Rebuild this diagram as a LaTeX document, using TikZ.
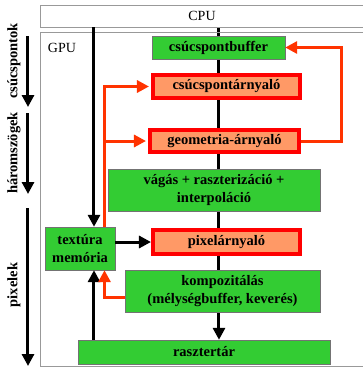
\documentclass[tikz,border=0pt]{standalone}
\usepackage{fontspec}
\setmainfont{Liberation Serif}
\usepackage{xcolor}
\usepackage{tikz}
\usetikzlibrary{arrows.meta,backgrounds}

\definecolor{stagegreen}{HTML}{33CC33}
\definecolor{shaderfill}{HTML}{FF9966}
\definecolor{fetchred}{HTML}{FF3300}

\begin{document}
\begin{tikzpicture}[x=1pt, y=-1pt,
        stage/.style={rectangle, draw=black!55, fill=stagegreen, align=center, inner sep=0pt, font=\fontsize{14.5}{18}\selectfont\bfseries},
        shader/.style={stage, draw=red, line width=4pt, fill=shaderfill},
        frame/.style={rectangle, draw=black!40, thick},
        axislabel/.style={rotate=90, font=\fontsize{14.5}{18}\selectfont\bfseries},
        dataflow/.style={draw, -{Triangle[length=12pt,width=12pt]}, line width=3pt},
        texfetch/.style={draw=fetchred, -{Triangle[length=12pt,width=12pt]}, line width=3pt}
    ]
        \useasboundingbox (0,0) rectangle (363,368);

        % Frames
        \node [frame, minimum width=324pt, minimum height=22pt, font=\fontsize{14}{16}\selectfont] (cpu) at (202,16) {CPU};
        \node [frame, minimum width=324pt, minimum height=334pt] (gpu) at (202,199) {};
        \node [font=\fontsize{14}{16}\selectfont] (gpulabel) at (62,48) {GPU};

        % Nodes
        \node [stage, minimum width=133pt, minimum height=23pt] (vbuf) at (218.5,47.5) {cs\'ucspontbuffer};
        \node [shader, minimum width=147pt, minimum height=23pt] (vsh) at (226.5,86.5) {cs\'ucspont\'arnyal\'o};
        \node [shader, minimum width=149pt, minimum height=22pt] (gsh) at (224.5,141) {geometria-\'arnyal\'o};
        \node [stage, minimum width=212pt, minimum height=42pt] (rast) at (214,190) {v\'ag\'as + raszteriz\'aci\'o +\\interpol\'aci\'o};
        \node [stage, minimum width=70pt, minimum height=43pt] (tex) at (80,248.5) {text\'ura\\mem\'oria};
        \node [shader, minimum width=147pt, minimum height=24pt] (psh) at (226.5,242) {pixel\'arnyal\'o};
        \node [stage, minimum width=195pt, minimum height=42pt] (comp) at (222.5,291) {kompozit\'al\'as\\(m\'elys\'egbuffer, kever\'es)};
        \node [stage, minimum width=252pt, minimum height=24pt] (fb) at (204,352) {rasztert\'ar};

        % Axis on the left
        \node [axislabel] (vlab) at (14,61) {cs\'ucspontok};
        \node [axislabel] (tlab) at (14,153) {h\'aromsz\"ogek};
        \node [axislabel] (plab) at (14,285) {pixelek};
        \coordinate (v1) at (28,36);  \coordinate (v2) at (28,107);
        \coordinate (t1) at (28,113); \coordinate (t2) at (28,194);
        \coordinate (p1) at (28,208); \coordinate (p2) at (28,366);
        \draw [dataflow] (v1) -- (v2);
        \draw [dataflow] (t1) -- (t2);
        \draw [dataflow] (p1) -- (p2);

        % Connections
        \coordinate (bus) at (219,27);
        \coordinate (texbus) at (94,27);
        \coordinate (fetch) at ([xshift=24.5pt]tex.north);
        \begin{pgfonlayer}{background}
            \draw [dataflow] (bus) -- (bus |- fb.north);
        \end{pgfonlayer}
        \draw [dataflow] (texbus) -- (texbus |- tex.north);
        \draw [dataflow] (fb.north -| texbus) -- (tex.south -| texbus);
        \draw [dataflow] (tex.east |- psh.west) -- (psh.west);

        % texture reads and feedback
        \draw [texfetch, shorten >=2pt] (fetch) |- (vsh.west);
        \draw [texfetch, shorten >=2pt] (fetch) |- (gsh.west);
        \draw [texfetch] ([yshift=-6pt]comp.west) -| (fetch |- tex.south);
        \draw [texfetch] (gsh.east) -- ++(41,0) |- (vbuf.east);

    \end{tikzpicture}
\end{document}
